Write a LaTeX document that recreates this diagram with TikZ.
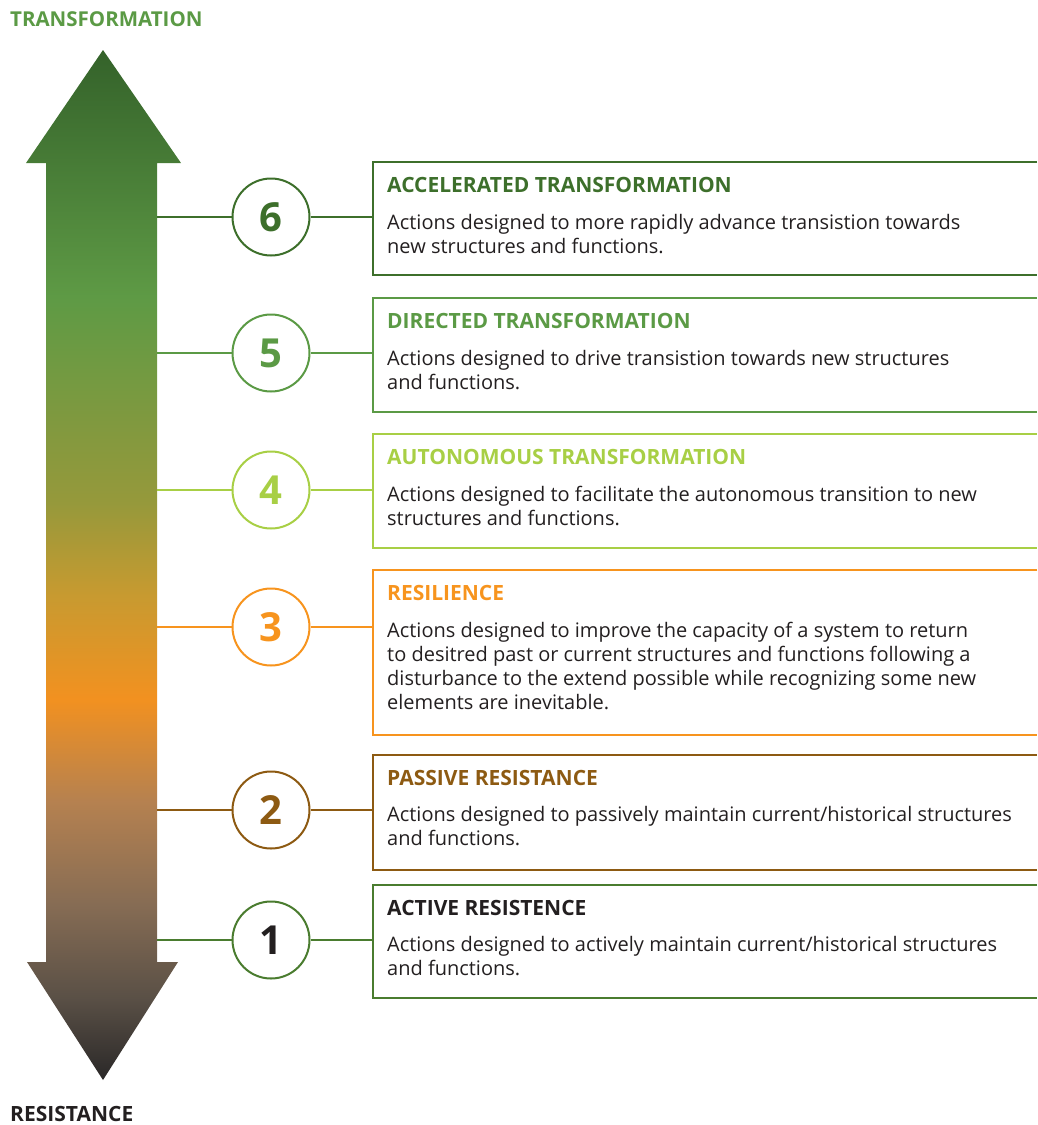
\documentclass[tikz,border=0pt]{standalone}
\usepackage{fontspec}
\setmainfont{Open Sans}
\usetikzlibrary{positioning}

\definecolor{lvlsix}{HTML}{3D6F2B}
\definecolor{lvlfive}{HTML}{5B9A45}
\definecolor{lvlfour}{HTML}{A8CF45}
\definecolor{lvlthree}{HTML}{F7941E}
\definecolor{lvltwo}{HTML}{8D5A12}
\definecolor{lvlone}{HTML}{4A7C2F}
\definecolor{txtgray}{HTML}{231F20}

% colours along the scale arrow, top to bottom
\definecolor{gradA}{HTML}{34622A}
\definecolor{gradB}{HTML}{5E9A45}
\definecolor{gradC}{HTML}{96993B}
\definecolor{gradD}{HTML}{C89A30}
\definecolor{gradE}{HTML}{F29120}
\definecolor{gradF}{HTML}{B58150}
\definecolor{gradG}{HTML}{866C54}
\definecolor{gradH}{HTML}{5A5046}
\definecolor{gradI}{HTML}{2A2828}
\pgfdeclareverticalshading{scalegrad}{100bp}{color(0bp)=(gradI); color(25bp)=(gradI);
  color(29bp)=(gradH); color(33.5bp)=(gradG); color(38.5bp)=(gradF);
  color(43.5bp)=(gradE); color(48.5bp)=(gradD); color(53bp)=(gradC);
  color(63bp)=(gradB); color(75bp)=(gradA); color(100bp)=(gradA)}

\begin{document}
\begin{tikzpicture}[x=1pt, y=-1pt,
  lvl/.style={draw=#1, line width=2pt},
  num/.style={circle, draw=#1, line width=2pt, fill=white, minimum size=77pt,
    inner sep=0pt, font=\fontsize{40}{40}\selectfont\bfseries},
  ttl/.style={anchor=base west, inner sep=0pt, text=#1,
    font=\fontsize{21}{22}\selectfont\bfseries},
  desc/.style={anchor=north west, inner sep=0pt, align=left, text=txtgray,
    font=\fontsize{20}{24}\selectfont}]
\useasboundingbox (0,0) rectangle (1037,1125);

% the scale arrow
\shade[shading=scalegrad] (103,50) -- (181,163) -- (157,163) -- (157,962)
  -- (178,962) -- (103,1080) -- (27,962) -- (46,962) -- (46,163) -- (26,163) -- cycle;
\node [ttl=lvlfive, font=\fontsize{20.5}{22}\selectfont\bfseries] (top) at (10,26) {TRANSFORMATION};
\node [ttl=txtgray, font=\fontsize{21}{22}\selectfont\bfseries] (bottom) at (10,1121) {RESISTANCE};

% level 6
\coordinate (s6) at (157,217);
\coordinate (b6) at (373,217);
\node [num=lvlsix, text=lvlsix] (c6) at (271,217) {6};
\draw [lvl=lvlsix] (1037,162) -| (373,275) -- (1037,275);
\draw [lvl=lvlsix] (s6) -- (c6) -- (b6);
\node [ttl=lvlsix] (t6) at (387,192) {ACCELERATED TRANSFORMATION};
\node [desc] (d6) at (387,214) {Actions designed to more rapidly advance transistion towards\\new structures and functions.};

% level 5
\coordinate (s5) at (157,353);
\coordinate (b5) at (373,353);
\node [num=lvlfive, text=lvlfive] (c5) at (271,353) {5};
\draw [lvl=lvlfive] (1037,298) -| (373,412) -- (1037,412);
\draw [lvl=lvlfive] (s5) -- (c5) -- (b5);
\node [ttl=lvlfive] (t5) at (387,328) {DIRECTED TRANSFORMATION};
\node [desc] (d5) at (387,350) {Actions designed to drive transistion towards new structures\\and functions.};

% level 4
\coordinate (s4) at (157,490);
\coordinate (b4) at (373,490);
\node [num=lvlfour, text=lvlfour] (c4) at (271,490) {4};
\draw [lvl=lvlfour] (1037,434) -| (373,548) -- (1037,548);
\draw [lvl=lvlfour] (s4) -- (c4) -- (b4);
\node [ttl=lvlfour] (t4) at (387,464) {AUTONOMOUS TRANSFORMATION};
\node [desc] (d4) at (387,486) {Actions designed to facilitate the autonomous transition to new\\structures and functions.};

% level 3
\coordinate (s3) at (157,627);
\coordinate (b3) at (373,627);
\node [num=lvlthree, text=lvlthree] (c3) at (271,627) {3};
\draw [lvl=lvlthree] (1037,570) -| (373,735) -- (1037,735);
\draw [lvl=lvlthree] (s3) -- (c3) -- (b3);
\node [ttl=lvlthree] (t3) at (387,600) {RESILIENCE};
\node [desc] (d3) at (387,622) {Actions designed to improve the capacity of a system to return\\to desitred past or current structures and functions following a\\disturbance to the extend possible while recognizing some new\\elements are inevitable.};

% level 2
\coordinate (s2) at (157,810);
\coordinate (b2) at (373,810);
\node [num=lvltwo, text=lvltwo] (c2) at (271,810) {2};
\draw [lvl=lvltwo] (1037,755) -| (373,870) -- (1037,870);
\draw [lvl=lvltwo] (s2) -- (c2) -- (b2);
\node [ttl=lvltwo] (t2) at (387,785) {PASSIVE RESISTANCE};
\node [desc] (d2) at (387,806) {Actions designed to passively maintain current/historical structures\\and functions.};

% level 1
\coordinate (s1) at (157,940);
\coordinate (b1) at (373,940);
\node [num=lvlone, text=txtgray] (c1) at (271,940) {1};
\draw [lvl=lvlone] (1037,885) -| (373,998) -- (1037,998);
\draw [lvl=lvlone] (s1) -- (c1) -- (b1);
\node [ttl=txtgray] (t1) at (387,915) {ACTIVE RESISTENCE};
\node [desc] (d1) at (387,936) {Actions designed to actively maintain current/historical structures\\and functions.};
\end{tikzpicture}
\end{document}
